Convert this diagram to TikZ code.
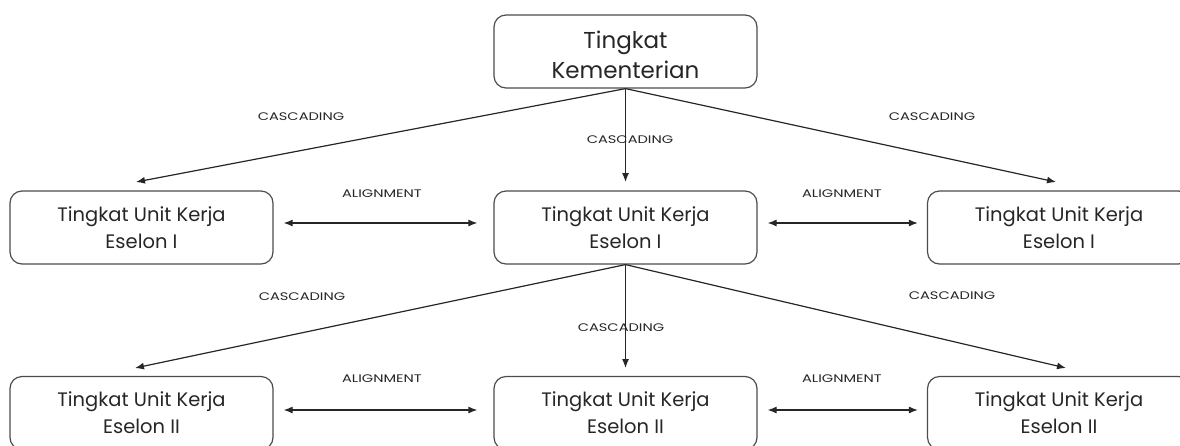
\documentclass[tikz,border=0pt]{standalone}
\usepackage{fontspec}
\usepackage{graphicx}
\setmainfont{Poppins}
\usetikzlibrary{arrows.meta}
\newcommand{\widecaps}[1]{\scalebox{1.33}[1]{#1}}
\begin{document}
\begin{tikzpicture}[x=1pt,y=-1pt,
  lvlbox/.style={draw=black!70, line width=1.2pt, rounded corners=12pt,
    minimum width=263pt, minimum height=73pt, inner sep=0pt, align=center,
    font=\fontsize{19.5}{27}\selectfont, text=black!85},
  topbox/.style={lvlbox},
  toptext/.style={inner sep=0pt, align=center, font=\fontsize{23}{30}\selectfont, text=black!85},
  casc/.style={draw=black!85, line width=1.2pt, -{Latex[length=9pt,width=7pt]}},
  align2/.style={draw=black!85, line width=1.2pt, {Latex[length=9pt,width=7pt]}-{Latex[length=9pt,width=7pt]}},
  lbl/.style={font=\fontsize{11}{12}\selectfont, text=black!85, inner sep=0pt}
]
\useasboundingbox (0,0) rectangle (1180,445);
\clip (0,0) rectangle (1180,445);
% boxes
\node[topbox] (top) at (625.5,51.5) {};
\node[toptext] (toplbl) at (625.5,55) {Tingkat\\Kementerian};
\node[lvlbox] (a1) at (141.5,227.5) {Tingkat Unit Kerja\\Eselon I};
\node[lvlbox] (b1) at (625.5,227.5) {Tingkat Unit Kerja\\Eselon I};
\node[lvlbox] (c1) at (1059,227.5) {Tingkat Unit Kerja\\Eselon I};
\node[lvlbox] (a2) at (141.5,413) {Tingkat Unit Kerja\\Eselon II};
\node[lvlbox] (b2) at (625.5,413) {Tingkat Unit Kerja\\Eselon II};
\node[lvlbox] (c2) at (1059,413) {Tingkat Unit Kerja\\Eselon II};
% arrow end points
\coordinate (ta1) at (136,182);
\coordinate (tb1) at (625.5,182);
\coordinate (tc1) at (1056,182);
\coordinate (ta2) at (135,368);
\coordinate (tb2) at (625.5,368);
\coordinate (tc2) at (1066,368);
% cascading
\draw[casc] (top.south) -- (ta1);
\draw[casc] (top.south) -- (tb1);
\draw[casc] (top.south) -- (tc1);
\draw[casc] (b1.south) -- (ta2);
\draw[casc] (b1.south) -- (tb2);
\draw[casc] (b1.south) -- (tc2);
% alignment
\draw[align2] ([xshift=10pt,yshift=4.5pt]a1.east) -- ([xshift=-16pt,yshift=4.5pt]b1.west);
\draw[align2] ([xshift=10pt,yshift=4.5pt]b1.east) -- ([xshift=-9pt,yshift=4.5pt]c1.west);
\draw[align2] ([xshift=10pt,yshift=3pt]a2.east) -- ([xshift=-16pt,yshift=3pt]b2.west);
\draw[align2] ([xshift=10pt,yshift=3pt]b2.east) -- ([xshift=-9pt,yshift=3pt]c2.west);
% labels
\node[lbl] (l1) at (301,117) {\widecaps{CASCADING}};
\node[lbl] (l2) at (630,140) {\widecaps{CASCADING}};
\node[lbl] (l3) at (932,117) {\widecaps{CASCADING}};
\node[lbl] (l4) at (302,297) {\widecaps{CASCADING}};
\node[lbl] (l5) at (621,328) {\widecaps{CASCADING}};
\node[lbl] (l6) at (952,296) {\widecaps{CASCADING}};
\node[lbl] (m1) at (382,194) {\widecaps{ALIGNMENT}};
\node[lbl] (m2) at (842,194) {\widecaps{ALIGNMENT}};
\node[lbl] (m3) at (382,379) {\widecaps{ALIGNMENT}};
\node[lbl] (m4) at (842,379) {\widecaps{ALIGNMENT}};
\end{tikzpicture}
\end{document}
